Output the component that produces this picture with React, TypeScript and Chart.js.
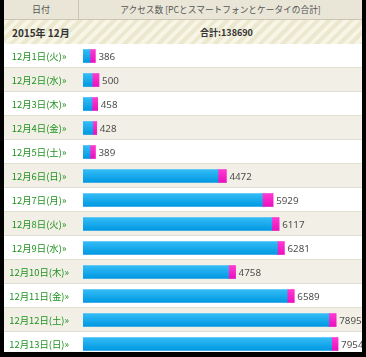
import React, { useEffect, useRef } from "react";
import { Chart, registerables } from "chart.js";

Chart.register(...registerables);

const headerDate = "日付";
const headerAccess = "アクセス数 [PCとスマートフォンとケータイの合計]";
const monthLabel = "2015年 12月";
const totalLabel = "合計:138690";

const dates = [
  "12月1日(火)»",
  "12月2日(水)»",
  "12月3日(木)»",
  "12月4日(金)»",
  "12月5日(土)»",
  "12月6日(日)»",
  "12月7日(月)»",
  "12月8日(火)»",
  "12月9日(水)»",
  "12月10日(木)»",
  "12月11日(金)»",
  "12月12日(土)»",
  "12月13日(日)»",
];
const totals = [386, 500, 458, 428, 389, 4472, 5929, 6117, 6281, 4758, 6589, 7895, 7954];
const smartphoneViews = [170, 212, 177, 122, 172, 263, 335, 230, 220, 220, 220, 230, 200];
const pcViews = [216, 288, 281, 306, 217, 4209, 5594, 5887, 6061, 4538, 6369, 7665, 7754];

const FONT = "'Noto Sans CJK JP', 'Noto Sans', sans-serif";

function gradientFor(top: string, bottom: string) {
  return (ctx: any) => {
    const chart = ctx.chart;
    const y = chart.scales && chart.scales.y;
    if (!y || !chart.chartArea || ctx.type !== "data") return top;
    const cy = y.getPixelForValue(ctx.index);
    const g = chart.ctx.createLinearGradient(0, cy - 6.5, 0, cy + 6.5);
    g.addColorStop(0, top);
    g.addColorStop(1, bottom);
    return g;
  };
}

const rowBg = {
  id: "rowBg",
  beforeDraw(chart: any) {
    const { ctx, width } = chart;
    const y = chart.scales.y;
    ctx.save();
    for (let i = 0; i < dates.length; i++) {
      const cy = y.getPixelForValue(i);
      const top = Math.round(cy - 12);
      ctx.fillStyle = i % 2 === 0 ? "#ffffff" : "#f2f0e6";
      ctx.fillRect(0, top, width, 24);
      ctx.fillStyle = "#e2dfd2";
      ctx.fillRect(0, top + 23, width, 1);
    }
    ctx.restore();
  },
};

const valueLabels = {
  id: "valueLabels",
  afterDatasetsDraw(chart: any) {
    const { ctx } = chart;
    const meta = chart.getDatasetMeta(1);
    ctx.save();
    ctx.font = "9.8px 'Noto Sans', sans-serif";
    ctx.fillStyle = "#4d4d4d";
    ctx.textAlign = "left";
    ctx.textBaseline = "middle";
    meta.data.forEach((el: any, i: number) => {
      ctx.fillText(String(totals[i]), el.x + 3, el.y + 1);
    });
    ctx.restore();
  },
};

export default function App() {
  const canvasRef = useRef<HTMLCanvasElement | null>(null);

  useEffect(() => {
    if (!canvasRef.current) return;
    const chart = new Chart(canvasRef.current, {
      type: "bar",
      data: {
        labels: dates,
        datasets: [
          {
            label: "PC",
            data: pcViews,
            backgroundColor: gradientFor("#35bcf6", "#0098e2"),
            borderWidth: 0,
            barThickness: 13,
          },
          {
            label: "スマートフォン",
            data: smartphoneViews,
            backgroundColor: gradientFor("#ff3ad2", "#ea10bf"),
            borderWidth: 0,
            barThickness: 13,
          },
        ],
      },
      options: {
        indexAxis: "y",
        responsive: false,
        animation: false,
        layout: { padding: 0 },
        plugins: {
          legend: { display: false },
          tooltip: { enabled: false },
        },
        scales: {
          x: {
            display: false,
            stacked: true,
            min: 0,
            max: 8700,
          },
          y: {
            stacked: true,
            grid: { display: false, drawTicks: false },
            border: { display: false },
            afterFit: (scale: any) => {
              scale.width = 79;
              scale.paddingTop = 0;
              scale.paddingBottom = 0;
              scale.paddingLeft = 0;
              scale.paddingRight = 0;
            },
            ticks: {
              color: "#1f921f",
              font: { family: FONT, size: 9.4 },
              crossAlign: "center",
              padding: 14,
            },
          },
        },
      },
      plugins: [rowBg, valueLabels],
    });
    return () => chart.destroy();
  }, []);

  return (
    <div
      style={{
        position: "fixed",
        left: 0,
        top: 0,
        width: 366,
        height: 357,
        background: "#000",
        overflow: "hidden",
      }}
    >
      <div
        style={{
          position: "absolute",
          left: 4,
          top: 0,
          width: 358,
          height: 352,
          background: "#fff",
          overflow: "hidden",
          fontFamily: FONT,
        }}
      >
        <div
          style={{
            position: "absolute",
            left: 0,
            top: 0,
            width: 358,
            height: 19,
            background: "#e9e6d8",
            borderBottom: "1px solid #c9c5b1",
          }}
        >
          <div
            style={{
              position: "absolute",
              left: 0,
              top: 0,
              width: 74,
              height: 19,
              borderRight: "1px solid #c9c5b1",
              textAlign: "center",
              lineHeight: "19px",
              fontSize: 9,
              color: "#555",
            }}
          >
            {headerDate}
          </div>
          <div
            style={{
              position: "absolute",
              left: 75,
              top: 0,
              width: 283,
              height: 19,
              textAlign: "center",
              lineHeight: "19px",
              fontSize: 8.7,
              color: "#555",
              whiteSpace: "nowrap",
            }}
          >
            {headerAccess}
          </div>
        </div>
        <div
          style={{
            position: "absolute",
            left: 0,
            top: 20,
            width: 358,
            height: 24,
            background:
              "repeating-linear-gradient(135deg, #f7f5e6 0px, #f7f5e6 4px, #ebe8cf 4px, #ebe8cf 8px)",
          }}
        >
          <div
            style={{
              position: "absolute",
              left: 8,
              top: 1,
              height: 24,
              lineHeight: "24px",
              fontSize: 10,
              fontWeight: "bold",
              color: "#333",
              whiteSpace: "nowrap",
            }}
          >
            {monthLabel}
          </div>
          <div
            style={{
              position: "absolute",
              left: 81,
              width: 283,
              top: 1,
              height: 24,
              lineHeight: "24px",
              textAlign: "center",
              fontSize: 9,
              fontWeight: "bold",
              color: "#333",
              whiteSpace: "nowrap",
            }}
          >
            {totalLabel}
          </div>
        </div>
        <canvas
          ref={canvasRef}
          width={358}
          height={312}
          style={{ position: "absolute", left: 0, top: 44, width: 358, height: 312 }}
        />
      </div>
    </div>
  );
}
